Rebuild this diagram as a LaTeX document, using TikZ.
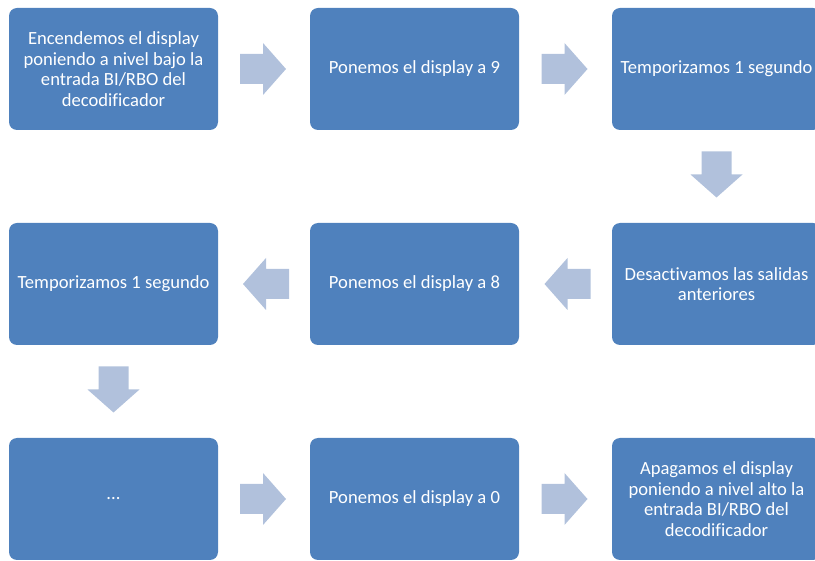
\documentclass[tikz,border=0pt]{standalone}
\usepackage{fontspec}
\setmainfont{Carlito}[Ligatures=NoCommon]
\usetikzlibrary{calc}
\definecolor{boxc}{HTML}{4F81BD}
\definecolor{arrowc}{HTML}{B1C1DC}
\tikzset{
  stepbox/.style={fill=boxc, draw=none, rounded corners=8pt, minimum width=209pt, minimum height=122pt,
    text=white, align=center, font=\fontsize{18.6pt}{20.6pt}\selectfont, inner sep=0pt},
  blockarrow/.pic={\fill[arrowc] (-23pt,-15pt) -- (0pt,-15pt) -- (0pt,-26pt) -- (23pt,0pt) -- (0pt,26pt) -- (0pt,15pt) -- (-23pt,15pt) -- cycle;}
}
\begin{document}
\begin{tikzpicture}[x=1pt,y=-1pt]
\clip (0,0) rectangle (815,561);
\node[stepbox] (b1) at (113.5,69) {Encendemos el display\\poniendo a nivel bajo la\\entrada BI/RBO del\\decodificador};
\node[stepbox] (b2) at (414.5,69) {Ponemos el display a 9};
\node[stepbox] (b3) at (716.5,69) {Temporizamos 1 segundo};
\node[stepbox] (b4) at (716.5,284) {Desactivamos las salidas\\anteriores};
\node[stepbox] (b5) at (414.5,284) {Ponemos el display a 8};
\node[stepbox] (b6) at (113.5,284) {Temporizamos 1 segundo};
\node[stepbox] (b7) at (113.5,499) {...};
\node[stepbox] (b8) at (414.5,499) {Ponemos el display a 0};
\node[stepbox] (b9) at (716.5,499) {Apagamos el display\\poniendo a nivel alto la\\entrada BI/RBO del\\decodificador};
\pic at ($(b1.east)!0.5!(b2.west)+(-1,0)$) {blockarrow};
\pic at ($(b2.east)!0.5!(b3.west)+(-1,0)$) {blockarrow};
\pic[rotate=-90] at ($(b3.south)!0.5!(b4.north)+(0,-2)$) {blockarrow};
\pic[rotate=180] at ($(b4.west)!0.5!(b5.east)+(2,0)$) {blockarrow};
\pic[rotate=180] at ($(b5.west)!0.5!(b6.east)+(2,0)$) {blockarrow};
\pic[rotate=-90] at ($(b6.south)!0.5!(b7.north)+(0,-2)$) {blockarrow};
\pic at ($(b7.east)!0.5!(b8.west)+(-1,0)$) {blockarrow};
\pic at ($(b8.east)!0.5!(b9.west)+(-1,0)$) {blockarrow};
\end{tikzpicture}
\end{document}
